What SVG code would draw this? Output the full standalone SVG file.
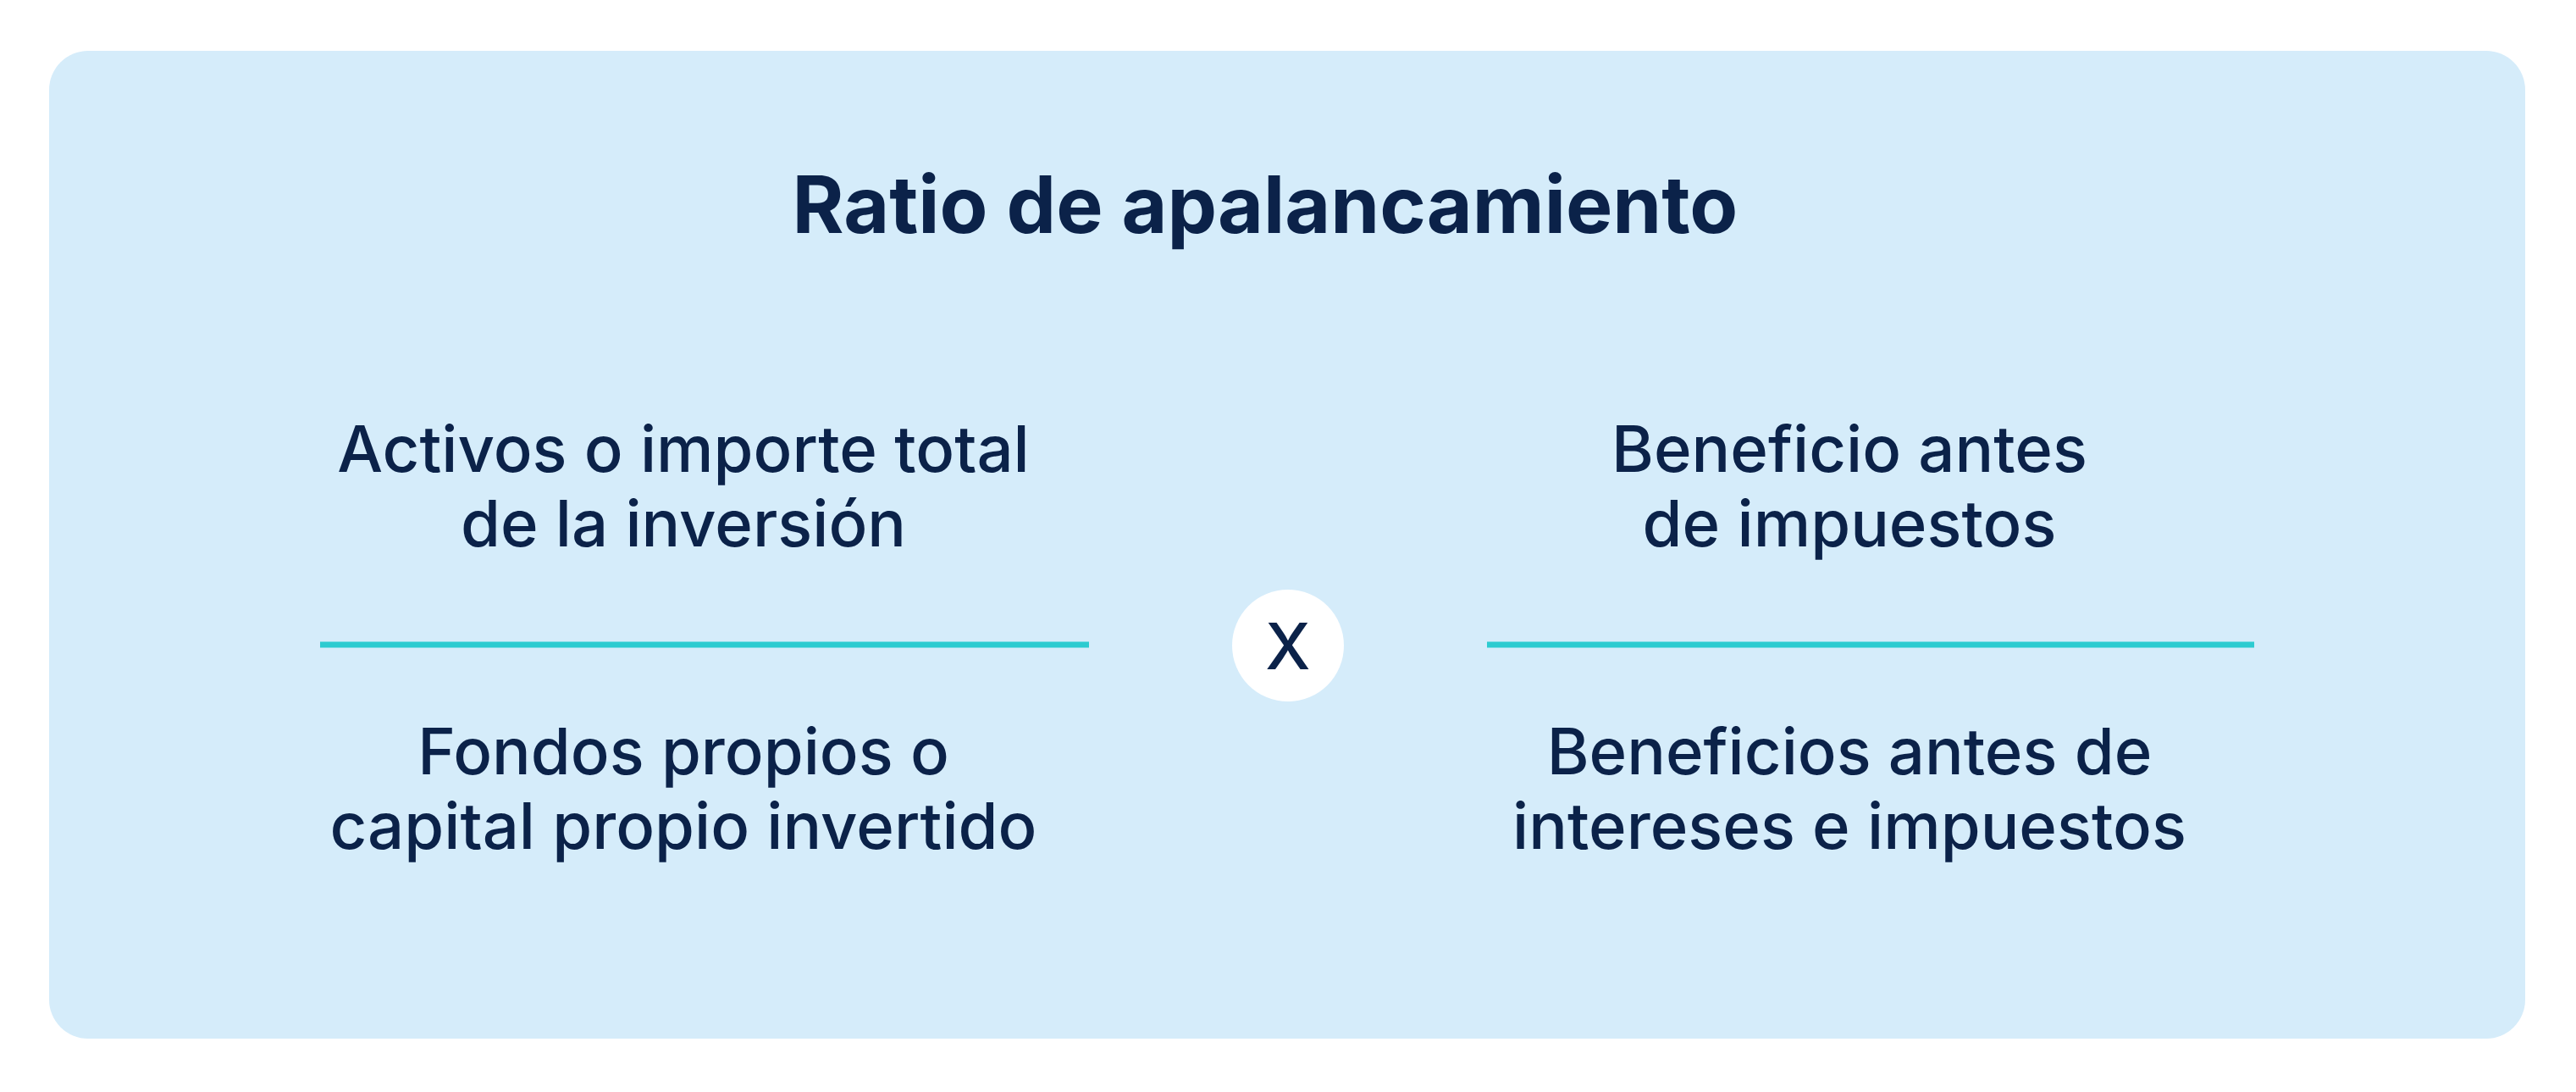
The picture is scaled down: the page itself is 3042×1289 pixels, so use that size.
<svg xmlns="http://www.w3.org/2000/svg" width="3042" height="1289" viewBox="0 0 3042 1289">
<style>
text{font-family:"Inter","Liberation Sans",sans-serif;fill:#0b2249;text-anchor:middle}
.t{font-size:76px;font-weight:500}
.h{font-size:93px;font-weight:700}
.ln{stroke:#2ccbd0;stroke-width:7}
</style>
<rect width="3042" height="1289" fill="#fff"/>
<rect x="58" y="60" width="2924" height="1166" rx="46" fill="#d5ecfa"/>
<g id="title"><text class="h" x="1494" y="275">Ratio de apalancamiento</text></g>
<g id="left-num"><text class="t" x="807" y="557">Activos o importe total</text><text class="t" x="807" y="645">de la inversión</text></g>
<g id="left-den"><text class="t" x="807" y="914">Fondos propios o</text><text class="t" x="807" y="1002">capital propio invertido</text></g>
<g id="right-num"><text class="t" x="2184" y="557">Beneficio antes</text><text class="t" x="2184" y="645">de impuestos</text></g>
<g id="right-den"><text class="t" x="2184" y="914">Beneficios antes de</text><text class="t" x="2184" y="1002">intereses e impuestos</text></g>
<g id="times"><circle cx="1521" cy="762" r="66" fill="#fff"/><text class="t" x="1521" y="790">X</text></g>
<g id="connectors"><line class="ln" x1="378" y1="761" x2="1286" y2="761"/><line class="ln" x1="1756" y1="761" x2="2662" y2="761"/></g>
</svg>
